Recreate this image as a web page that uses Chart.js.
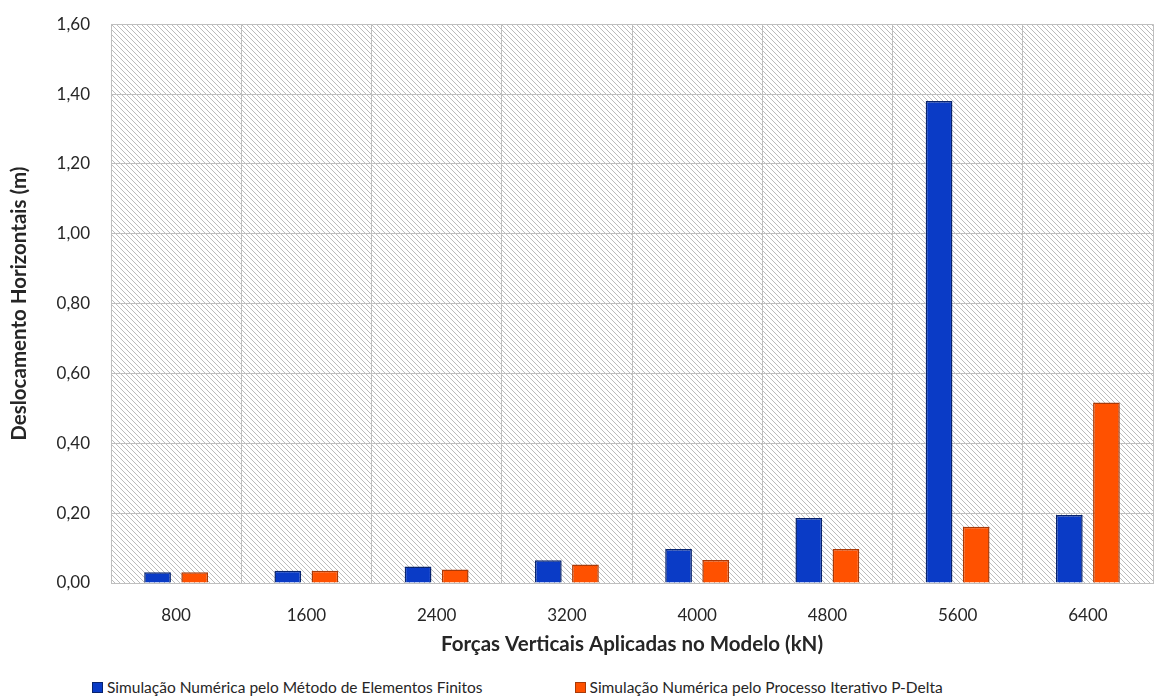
<!DOCTYPE html>
<html>
<head>
<meta charset="utf-8">
<script src="https://cdn.jsdelivr.net/npm/chart.js@4.4.1/dist/chart.umd.min.js"></script>
<style>
    html, body { margin: 0; padding: 0; background: #ffffff; overflow: hidden; }
    #wrap { position: relative; width: 1155px; height: 675px; margin-top: -7px; }
    #legend {
        position: absolute; top: 678px; left: 92px;
        font-family: Lato, 'Liberation Sans', sans-serif; font-size: 15.5px; color: #262626;
        display: flex; gap: 92px; white-space: nowrap;
    }
    #legend .item { display: flex; align-items: center; }
    #legend .box { width: 9px; height: 9px; margin-right: 4px; border: 1px solid; }
</style>
</head>
<body>
<div id="wrap"><canvas id="chart"></canvas></div>
<div id="legend"></div>
<script>
const categories = ['800', '1600', '2400', '3200', '4000', '4800', '5600', '6400'];
const femValues = [0.031, 0.035, 0.047, 0.065, 0.097, 0.186, 1.38, 0.195];
const pDeltaValues = [0.031, 0.035, 0.039, 0.053, 0.066, 0.097, 0.161, 0.517];
const seriesNames = [
    'Simulação Numérica pelo Método de Elementos Finitos',
    'Simulação Numérica pelo Processo Iterativo P-Delta'
];
const yMin = 0, yMax = 1.6, yStep = 0.2;

Chart.defaults.font.family = "Lato, 'Liberation Sans', sans-serif";
Chart.defaults.color = '#262626';

// diagonal hatch used as plot background
function makeHatch() {
    const s = 5;
    const c = document.createElement('canvas');
    c.width = s; c.height = s;
    const g = c.getContext('2d');
    g.fillStyle = '#ffffff';
    g.fillRect(0, 0, s, s);
    g.strokeStyle = '#bcbcbc';
    g.lineWidth = 1;
    g.beginPath();
    g.moveTo(-1, -1); g.lineTo(s + 1, s + 1);
    g.moveTo(-1, s - 1); g.lineTo(1, s + 1);
    g.moveTo(s - 1, -1); g.lineTo(s + 1, 1);
    g.stroke();
    return c;
}

const hatchBg = {
    id: 'hatchBg',
    beforeDraw(chart) {
        const { ctx, chartArea: a } = chart;
        ctx.save();
        ctx.fillStyle = ctx.createPattern(makeHatch(), 'repeat');
        ctx.fillRect(a.left, a.top, a.right - a.left, a.bottom - a.top);
        ctx.restore();
    }
};

const ctx = document.getElementById('chart').getContext('2d');
const chart = new Chart(ctx, {
    type: 'bar',
    data: {
        labels: categories,
        datasets: [{
            label: seriesNames[0],
            data: femValues,
            backgroundColor: '#0a3bc6',
            borderColor: '#08246e',
            borderWidth: 1.5
        }, {
            label: seriesNames[1],
            data: pDeltaValues,
            backgroundColor: '#ff5100',
            borderColor: '#a83a08',
            borderWidth: 1.5
        }]
    },
    options: {
        responsive: true,
        maintainAspectRatio: false,
        animation: false,
        categoryPercentage: 0.57,
        barPercentage: 0.72,
        layout: { padding: { top: 12, right: 2, left: 0, bottom: 0 } },
        scales: {
            x: {
                grid: { color: '#bfbfbf', lineWidth: 1, drawTicks: false, offset: true },
                border: { color: '#bfbfbf' },
                ticks: { padding: 22, font: { size: 17 }, color: '#262626' },
                title: {
                    display: true,
                    text: 'Forças Verticais Aplicadas no Modelo (kN)',
                    font: { size: 20.5, weight: 'bold' },
                    padding: { top: 2, bottom: 11 }
                },
                afterFit(scale) { scale.height = 85; }
            },
            y: {
                min: yMin,
                max: yMax,
                grid: { color: '#bfbfbf', lineWidth: 1, drawTicks: false },
                border: { color: '#bfbfbf' },
                ticks: {
                    stepSize: yStep,
                    padding: 21,
                    font: { size: 17 },
                    color: '#262626',
                    callback: v => v.toFixed(2).replace('.', ',')
                },
                title: {
                    display: true,
                    text: 'Deslocamento Horizontais (m)',
                    font: { size: 20.5, weight: 'bold' },
                    padding: { top: 7, bottom: 0 }
                },
                afterFit(scale) { scale.width = 111; }
            }
        },
        plugins: {
            legend: { display: false },
            tooltip: { enabled: false }
        }
    },
    plugins: [hatchBg]
});

// html legend built from the datasets
const legendEl = document.getElementById('legend');
chart.data.datasets.forEach(ds => {
    const item = document.createElement('div');
    item.className = 'item';
    const box = document.createElement('span');
    box.className = 'box';
    box.style.background = ds.backgroundColor;
    box.style.borderColor = ds.borderColor;
    const txt = document.createElement('span');
    txt.textContent = ds.label;
    item.appendChild(box);
    item.appendChild(txt);
    legendEl.appendChild(item);
});
</script>
</body>
</html>
